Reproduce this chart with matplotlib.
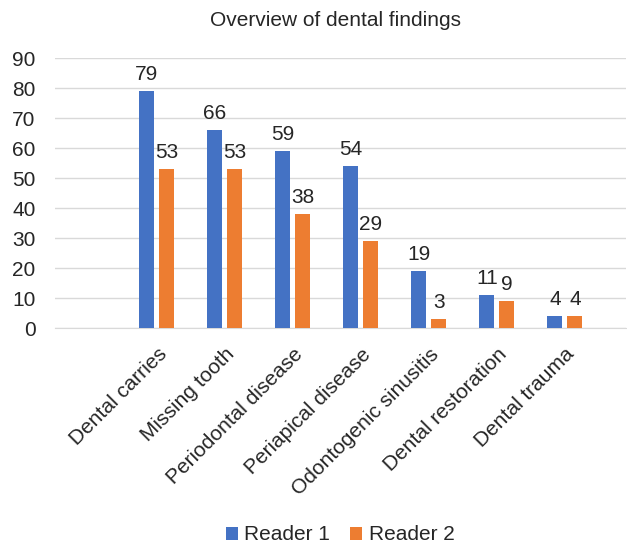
import numpy as np
from matplotlib import pyplot as plt

plt.rcParams['font.family'] = ['Liberation Sans', 'DejaVu Sans']

# datos
categorias = ["Dental carries", "Missing tooth", "Periodontal disease",
              "Periapical disease", "Odontogenic sinusitis",
              "Dental restoration", "Dental trauma"]
lector1 = [79, 66, 59, 54, 19, 11, 4]
lector2 = [53, 53, 38, 29, 3, 9, 4]

azul = "#4472C4"
naranja = "#ED7D31"

fig = plt.figure(figsize=(6.27, 5.44), dpi=100)
ax = fig.add_axes([55/627, 1-328/544, (626-55)/627, (328-58)/544])

# primera posicion vacia, como en el original
x = np.arange(1, len(categorias)+1)
w = 0.22
d = 0.147

b1 = ax.bar(x-d, lector1, w, color=azul, label="Reader 1", zorder=3)
b2 = ax.bar(x+d, lector2, w, color=naranja, label="Reader 2", zorder=3)

for barras in (b1, b2):
    for b in barras:
        ax.annotate(str(int(b.get_height())),
                    (b.get_x()+b.get_width()/2, b.get_height()),
                    xytext=(0, 5), textcoords="offset points",
                    ha="center", va="bottom", fontsize=15, color="#262626")

ax.set_xlim(-0.5, 7.9)
ax.set_ylim(0, 90)
ax.set_yticks(range(0, 91, 10))
ax.yaxis.grid(True, color="#D9D9D9", lw=1)
ax.set_axisbelow(True)
for s in ["top", "right", "left"]:
    ax.spines[s].set_visible(False)
ax.spines["bottom"].set_color("#D9D9D9")
ax.tick_params(axis="both", length=0, labelsize=15, colors="#262626")
ax.tick_params(axis="y", pad=14)

ax.set_xticks(x)
ax.set_xticklabels(categorias, rotation=45, ha="right", rotation_mode="anchor")
ax.tick_params(axis="x", pad=12)

fig.text(336/627, 1-20/544, "Overview of dental findings", ha="center", va="center",
         fontsize=15, color="#262626")

fig.legend(handles=[b1, b2], loc="center", bbox_to_anchor=(340/627, 1-535/544),
           ncol=2, frameon=False, fontsize=15, handlelength=0.6, handleheight=0.6,
           handletextpad=0.3, columnspacing=0.95, labelcolor="#262626")

plt.savefig("out.png", dpi=100)
